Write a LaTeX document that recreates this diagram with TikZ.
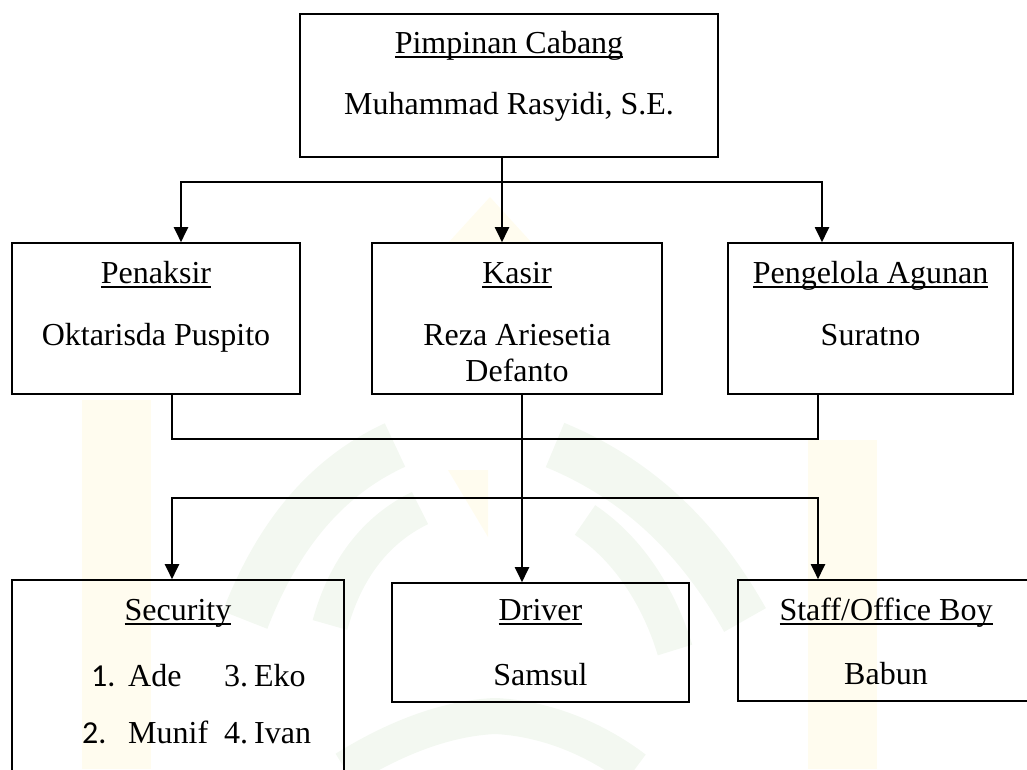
\documentclass[tikz,border=0pt]{standalone}
\usepackage{fontspec}
\setmainfont{Liberation Serif}
\newfontfamily\numfont{Carlito}
\usetikzlibrary{arrows.meta}
\newsavebox\ulbox
\newcommand\uln[1]{\sbox\ulbox{#1}\rlap{\rule[-5pt]{\wd\ulbox}{1.7pt}}\usebox\ulbox}
\definecolor{wmyellow}{HTML}{FFFCEF}
\definecolor{wmgreen}{HTML}{F3F8F1}
\tikzset{
  orgbox/.style={draw, line width=1.6pt, inner sep=0pt, fill=none},
  txt/.style={anchor=base, inner sep=0pt, font=\fontsize{32}{37}\selectfont},
  txtw/.style={anchor=base west, inner sep=0pt, font=\fontsize{32}{37}\selectfont},
  conn/.style={line width=2pt},
  arr/.style={conn, -{Triangle[width=14pt,length=15pt]}},
  wmy/.style={fill=wmyellow, draw=none},
  wmg/.style={draw=wmgreen, line cap=butt}
}
\begin{document}
\begin{tikzpicture}[x=1pt,y=-1pt]
\useasboundingbox (0,0) rectangle (1027,769);
\clip (0,0) rectangle (1027,769);
% faint watermark
\fill[wmy] (82,400) rectangle (151,769);
\fill[wmy] (808,440) rectangle (877,769);
\fill[wmy] (490,197) -- (532,243) -- (448,243) -- cycle;
\fill[wmy] (448,470) -- (488,470) -- (488,537) -- cycle;
\draw[wmg, line width=48pt] (245,620) .. controls (280,530) and (330,475) .. (395,445);
\draw[wmg, line width=48pt] (555,445) .. controls (640,480) and (700,540) .. (745,620);
\draw[wmg, line width=36pt] (330,625) .. controls (345,570) and (375,530) .. (420,508);
\draw[wmg, line width=36pt] (585,520) .. controls (630,550) and (660,600) .. (675,650);
\draw[wmg, line width=36pt] (345,769) .. controls (400,735) and (450,718) .. (495,716)
                                      .. controls (540,718) and (590,735) .. (635,769);
% boxes
\node[orgbox, minimum width=418pt, minimum height=143pt] (pc) at (509,85.5) {};
\node[orgbox, minimum width=288pt, minimum height=151pt] (pen) at (156,318.5) {};
\node[orgbox, minimum width=290pt, minimum height=151pt] (kas) at (517,318.5) {};
\node[orgbox, minimum width=285pt, minimum height=151pt] (pag) at (870.5,318.5) {};
\node[orgbox, minimum width=332pt, minimum height=220pt] (sec) at (178,690) {};
\node[orgbox, minimum width=297pt, minimum height=119pt] (drv) at (540.5,642.5) {};
\node[orgbox, minimum width=296pt, minimum height=121pt] (stf) at (886,640.5) {};
% texts
\node[txt] (pct) at (509,53) {\uln{Pimpinan Cabang}};
\node[txt] (pcn) at (509,114) {Muhammad Rasyidi, S.E.};
\node[txt] (pent) at (156,283) {\uln{Penaksir}};
\node[txt] (penn) at (156,345) {Oktarisda Puspito};
\node[txt] (kast) at (517,283) {\uln{Kasir}};
\node[txt] (kasn1) at (517,345) {Reza Ariesetia};
\node[txt] (kasn2) at (517,381) {Defanto};
\node[txt] (pagt) at (870.5,283) {\uln{Pengelola Agunan}};
\node[txt] (pagn) at (870.5,345) {Suratno};
\node[txt] (sect) at (178,620) {\uln{Security}};
\node[txtw] (s1n) at (91,686) {\numfont 1.};
\node[txtw] (s1) at (128,686) {Ade};
\node[txtw] (s3) at (224,686) {3.\kern6pt Eko};
\node[txtw] (s2n) at (82,743) {\numfont 2.};
\node[txtw] (s2) at (128,743) {Munif};
\node[txtw] (s4) at (224,743) {4.\kern6pt Ivan};
\node[txt] (drvt) at (540.5,620) {\uln{Driver}};
\node[txt] (drvn) at (540.5,685) {Samsul};
\node[txt] (stft) at (886,620) {\uln{Staff/Office Boy}};
\node[txt] (stfn) at (886,684) {Babun};
% connectors
\coordinate (kx) at (502,182);
\coordinate (busL) at (181,182);
\coordinate (busR) at (822,182);
\draw[conn] (pc.south -| kx) -- (kx);
\draw[arr] (kx) -- (kx |- kas.north);
\draw[arr] (kx) -- (busL) -- (busL |- pen.north);
\draw[arr] (kx) -- (busR) -- (busR |- pag.north);
\coordinate (m1) at (172,439);
\coordinate (m2) at (522,439);
\coordinate (m3) at (818,439);
\draw[conn] (pen.south -| m1) -- (m1) -- (m3) -- (pag.south -| m3);
\draw[conn] (kas.south -| m2) -- (m2);
\coordinate (n1) at (172,498);
\coordinate (n2) at (522,498);
\coordinate (n3) at (818,498);
\draw[conn] (m2) -- (n2);
\draw[arr] (n2) -- (n2 |- drv.north);
\draw[arr] (n2) -- (n1) -- (n1 |- sec.north);
\draw[arr] (n2) -- (n3) -- (n3 |- stf.north);
\end{tikzpicture}
\end{document}
